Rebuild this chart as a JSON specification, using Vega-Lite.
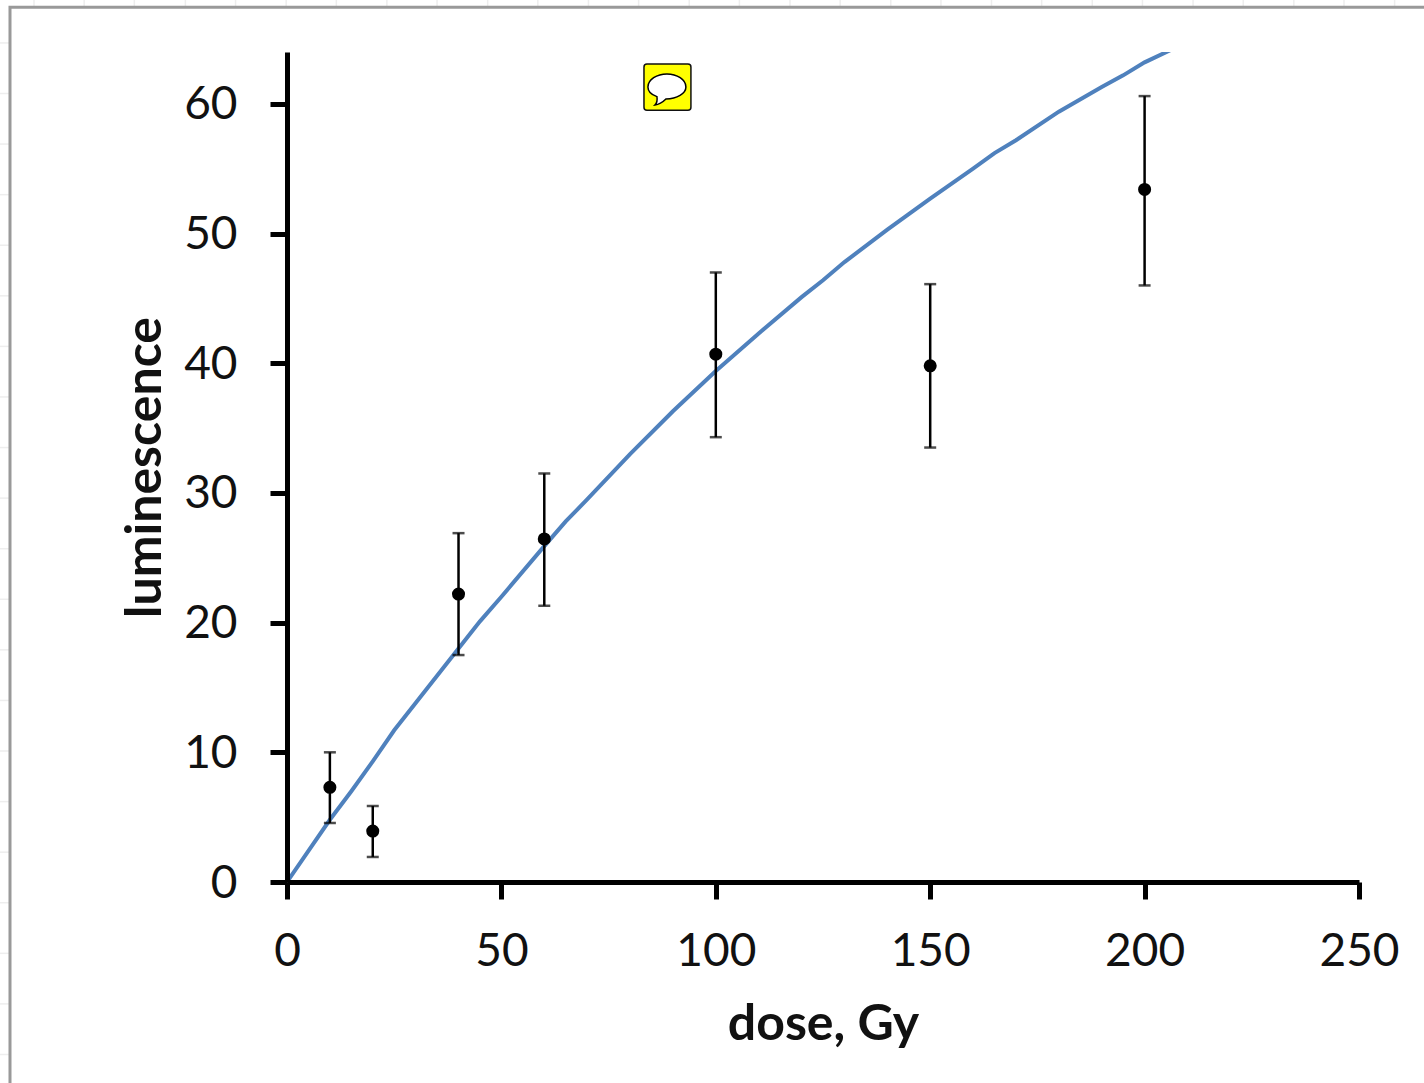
{
"$schema":"https://vega.github.io/schema/vega-lite/v6.json",
"width":1072,"height":830,
"autosize":{"type":"none"},
"padding":{"left":287,"top":52,"right":65,"bottom":201},
"background":"#ffffff",
"config":{"view":{"stroke":null},"font":"Lato"},
"datasets":{
"points":[
{"dose":10,"lum":7.3,"lo":4.55,"hi":10.0},
{"dose":20,"lum":3.93,"lo":1.93,"hi":5.86},
{"dose":40,"lum":22.2,"lo":17.5,"hi":26.9},
{"dose":60,"lum":26.45,"lo":21.3,"hi":31.5},
{"dose":100,"lum":40.7,"lo":34.3,"hi":47.0},
{"dose":150,"lum":39.8,"lo":33.5,"hi":46.1},
{"dose":200,"lum":53.4,"lo":46.0,"hi":60.6}],
"curve":[
{"dose":0,"lum":0},{"dose":5,"lum":2.4},{"dose":10,"lum":4.8},{"dose":15,"lum":7.0},{"dose":20,"lum":9.3},{"dose":25,"lum":11.7},{"dose":30,"lum":13.8},{"dose":40,"lum":18.0},{"dose":45,"lum":20.1},{"dose":50,"lum":22.0},{"dose":60,"lum":25.9},{"dose":65,"lum":27.8},{"dose":70,"lum":29.5},{"dose":80,"lum":33.0},{"dose":90,"lum":36.3},{"dose":100,"lum":39.4},{"dose":110,"lum":42.3},{"dose":120,"lum":45.1},{"dose":125,"lum":46.4},{"dose":130,"lum":47.8},{"dose":140,"lum":50.3},{"dose":145,"lum":51.5},{"dose":150,"lum":52.7},{"dose":160,"lum":55.0},{"dose":165,"lum":56.2},{"dose":170,"lum":57.2},{"dose":180,"lum":59.4},{"dose":190,"lum":61.3},{"dose":195,"lum":62.2},{"dose":200,"lum":63.2},{"dose":207,"lum":64.3}],
"vgrid":[{"d":-59},{"d":-47.3},{"d":-35.6},{"d":-23.7},{"d":-12},{"d":-0.2},{"d":11.5},{"d":23.3},{"d":35},{"d":46.8},{"d":58.5},{"d":70.3},{"d":82},{"d":93.8},{"d":105.5},{"d":117.3},{"d":129},{"d":140.8},{"d":152.5},{"d":164.3},{"d":176},{"d":187.8},{"d":199.5},{"d":211.3},{"d":223},{"d":234.8},{"d":246.5},{"d":258.3},{"d":270}],
"hgrid":[{"l":64.7},{"l":60.8},{"l":56.9},{"l":53},{"l":49.1},{"l":45.2},{"l":41.3},{"l":37.4},{"l":33.5},{"l":29.6},{"l":25.7},{"l":21.8},{"l":17.9},{"l":14},{"l":10.1},{"l":6.2},{"l":2.3},{"l":-1.6},{"l":-5.5},{"l":-9.4},{"l":-13.3}],
"frame":[{"x0":-64.6,"x1":320,"y0":-25,"y1":67.46}],
"note":[{"x0":83.25,"x1":94.2,"y0":59.5,"y1":63.07,"xc":88.6,"yc":61.3}]
},
"layer":[
{"data":{"name":"vgrid"},"mark":{"type":"rule","color":"#eeeeee","strokeWidth":1.5,"clip":false},
 "encoding":{"x":{"field":"d","type":"quantitative","scale":{"domain":[0,250],"nice":false},"axis":{"title":"dose, Gy","zindex":1,"grid":false,"values":[0,50,100,150,200,250],"domainColor":"#000","domainWidth":5,"tickColor":"#000","tickWidth":5,"tickSize":17,"labelFont":"Lato","labelFontSize":46,"labelColor":"#111","labelPadding":30,"labelOverlap":false,"labelFlush":false,"titleFont":"Lato","titleFontWeight":"bold","titleFontSize":50,"titleColor":"#111","titlePadding":25}},
 "y":{"datum":67.5,"type":"quantitative","scale":{"domain":[0,64],"nice":false,"zero":false},"axis":{"title":"luminescence","zindex":1,"grid":false,"values":[0,10,20,30,40,50,60],"domainColor":"#000","domainWidth":5,"tickColor":"#000","tickWidth":5,"tickSize":17,"labelFont":"Lato","labelFontSize":46,"labelColor":"#111","labelOffset":1,"labelPadding":33,"labelOverlap":false,"labelFlush":false,"titleFont":"Lato","titleFontWeight":"bold","titleFontSize":50,"titleColor":"#111","titlePadding":13}},
 "y2":{"datum":69}}},
{"data":{"name":"hgrid"},"mark":{"type":"rule","color":"#eeeeee","strokeWidth":1.5},
 "encoding":{"y":{"field":"l","type":"quantitative"},"x":{"datum":-67,"type":"quantitative"},"x2":{"datum":-64.6}}},
{"data":{"name":"frame"},"mark":{"type":"rect","fill":"#ffffff","stroke":"#999999","strokeWidth":3},
 "encoding":{"x":{"field":"x0","type":"quantitative"},"x2":{"field":"x1"},"y":{"field":"y0","type":"quantitative"},"y2":{"field":"y1"}}},
{"data":{"name":"curve"},"mark":{"type":"line","color":"#4f81bd","strokeWidth":4,"clip":true},
 "encoding":{"x":{"field":"dose","type":"quantitative"},"y":{"field":"lum","type":"quantitative"}}},
{"data":{"name":"points"},"mark":{"type":"rule","color":"#000000","strokeWidth":2.5},
 "encoding":{"x":{"field":"dose","type":"quantitative"},"y":{"field":"lo","type":"quantitative"},"y2":{"field":"hi"}}},
{"data":{"name":"points"},"mark":{"type":"tick","orient":"horizontal","color":"#000000","size":12,"thickness":2.5},
 "encoding":{"x":{"field":"dose","type":"quantitative"},"y":{"field":"lo","type":"quantitative"}}},
{"data":{"name":"points"},"mark":{"type":"tick","orient":"horizontal","color":"#000000","size":12,"thickness":2.5},
 "encoding":{"x":{"field":"dose","type":"quantitative"},"y":{"field":"hi","type":"quantitative"}}},
{"data":{"name":"points"},"mark":{"type":"point","filled":true,"shape":"circle","color":"#000000","size":170,"opacity":1},
 "encoding":{"x":{"field":"dose","type":"quantitative"},"y":{"field":"lum","type":"quantitative"}}},
{"data":{"name":"note"},"mark":{"type":"rect","fill":"#ffff00","stroke":"#111111","strokeWidth":1.5,"cornerRadius":3},
 "encoding":{"x":{"field":"x0","type":"quantitative"},"x2":{"field":"x1"},"y":{"field":"y0","type":"quantitative"},"y2":{"field":"y1"}}},
{"data":{"name":"note"},"mark":{"type":"point","filled":true,"fill":"#ffffff","stroke":"#000000","strokeWidth":1.5,"opacity":1,"size":1600,"shape":"M-0.95 0C-0.95 -0.37 -0.5 -0.65 0 -0.65C0.5 -0.65 0.95 -0.37 0.95 0C0.95 0.33 0.5 0.58 -0.05 0.6C-0.2 0.75 -0.4 0.88 -0.6 0.9C-0.5 0.8 -0.47 0.65 -0.5 0.48C-0.8 0.38 -0.95 0.18 -0.95 0Z"},
 "encoding":{"x":{"field":"xc","type":"quantitative"},"y":{"field":"yc","type":"quantitative"}}}
]
}
